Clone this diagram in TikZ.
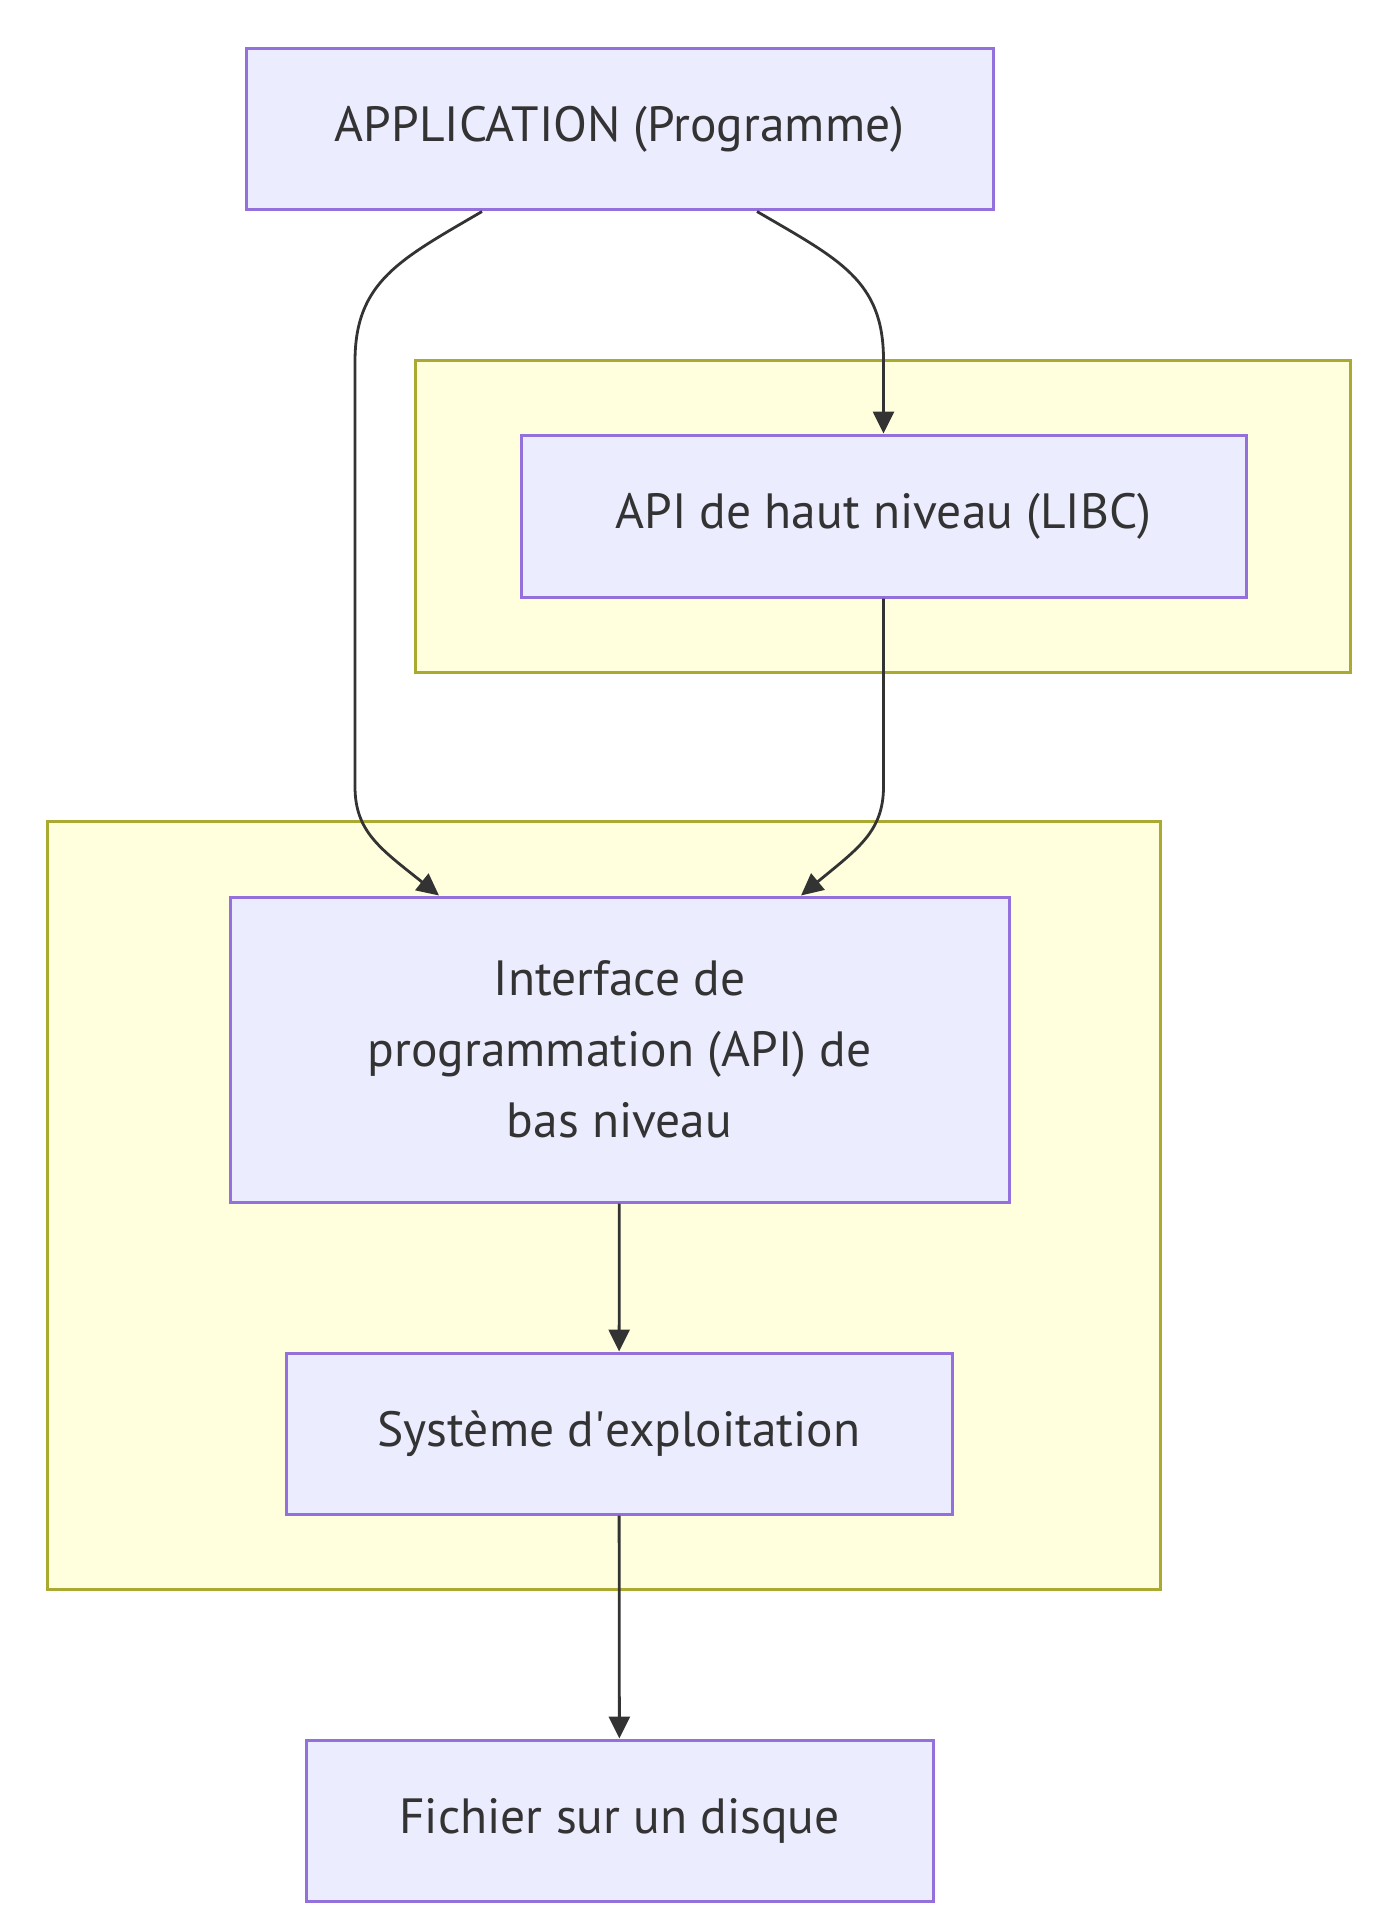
\documentclass[tikz,border=0pt]{standalone}
\usepackage{fontspec}
\setmainfont{PT Sans}
\usepackage{tikz}
\usetikzlibrary{arrows.meta, positioning, calc}
\definecolor{nodefill}{RGB}{236,236,255}
\definecolor{nodeline}{RGB}{147,112,219}
\definecolor{clusfill}{RGB}{255,255,222}
\definecolor{clusline}{RGB}{170,170,51}
\definecolor{mydark}{RGB}{51,51,51}
\tikzset{
  box/.style={rectangle, draw=nodeline, fill=nodefill, align=center,
    text=mydark, font=\fontsize{49.5}{70.7}\selectfont, line width=3pt,
    inner sep=0pt},
  cluster/.style={rectangle, draw=clusline, fill=clusfill, line width=3pt,
    inner sep=0pt},
  arrow/.style={-{Triangle[length=22pt, width=21pt]}, line width=2.8pt, color=mydark}
}

\begin{document}
\begin{tikzpicture}[x=1pt, y=-1pt]
  \useasboundingbox (0,0) rectangle (1375,1926);

  % Groups
  \node[cluster, minimum width=935pt, minimum height=312pt] (grphigh) at (882.5,516) {};
  \node[cluster, minimum width=1113pt, minimum height=768pt] (grplow) at (603.5,1205) {};

  % Layers
  \node[box, minimum width=747pt, minimum height=161pt] (app) at (619.5,129.5) {APPLICATION (Programme)};
  \node[box, minimum width=725pt, minimum height=162pt] (libc) at (883.5,516) {API de haut niveau (LIBC)};
  \node[box, minimum width=779pt, minimum height=305pt] (lowapi) at (619.5,1049.5)
    {Interface de\\programmation (API) de\\bas niveau};
  \node[box, minimum width=666pt, minimum height=161pt] (os) at (619,1433.5) {Système d\textquotesingle exploitation};
  \node[box, minimum width=627pt, minimum height=161pt] (disk) at (619.5,1820.5) {Fichier sur un disque};

  % Calls
  \draw[arrow] ($(app.south)+(-137.5,0)$) .. controls +(-82,48) and +(0,-80) .. ++(-127,150)
    -- ++(0,425) .. controls +(0,45) and +(-59,-47) .. ($(lowapi.north)+(-180.5,0)$);
  \draw[arrow] ($(app.south)+(137.5,0)$) .. controls +(82,48) and +(0,-80) .. (libc.north |- 0,360)
    -- (libc.north);
  \draw[arrow] (libc.south) -- ++(0,188) .. controls +(0,45) and +(57,-47) .. ($(lowapi.north)+(181.5,0)$);
  \draw[arrow] (lowapi) -- (os);
  \draw[arrow] (os) -- (disk);
\end{tikzpicture}
\end{document}
